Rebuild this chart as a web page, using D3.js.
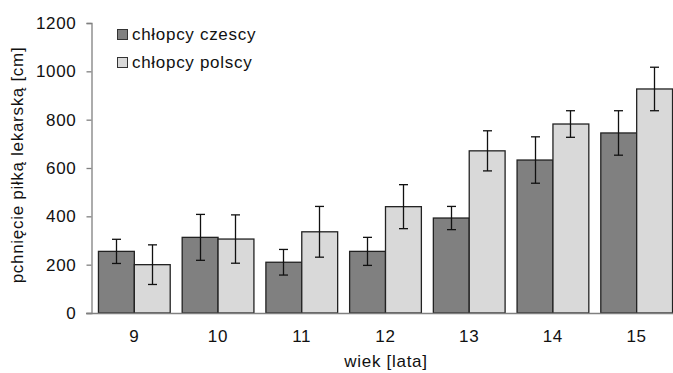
<!DOCTYPE html>
<html><head><meta charset="utf-8">
<script src="https://cdn.jsdelivr.net/npm/d3@7"></script>
<style>body{margin:0;background:#fff}svg{display:block;font-family:"Liberation Sans",Arial,sans-serif}text{letter-spacing:0.7px}</style>
</head><body><svg id="c" width="673" height="373"></svg>
<script>
const categories = ["9","10","11","12","13","14","15"];
const seriesNames = ["chłopcy czescy","chłopcy polscy"];
const czech = [255, 313, 210, 255, 393, 633, 745];
const czechErr = [50, 95, 53, 58, 48, 96, 92];
const polish = [200, 306, 336, 440, 671, 782, 927];
const polishErr = [82, 100, 105, 91, 83, 55, 90];
const yTicks = [0, 200, 400, 600, 800, 1000, 1200];
const colors = ["#808080", "#d9d9d9"];

const svg = d3.select("#c");
const x0 = d3.scaleBand().domain(categories).range([91, 679]).paddingInner(0.143).paddingOuter(0.083);
const x1 = d3.scaleBand().domain([0,1]).range([0, x0.bandwidth()]);
const y = d3.scaleLinear().domain([0, 1200]).range([313, 23]);
const fs = 17;
const ff = "Liberation Sans, Arial, sans-serif";

const data = categories.map((c,i)=>[
  {cat:c, s:0, v:czech[i], e:czechErr[i]},
  {cat:c, s:1, v:polish[i], e:polishErr[i]}
]).flat();

// bars
svg.append("g").selectAll("rect").data(data).join("rect")
  .attr("x", d=>x0(d.cat)+x1(d.s)+0.5)
  .attr("y", d=>y(d.v))
  .attr("width", x1.bandwidth())
  .attr("height", d=>y(0)-y(d.v))
  .attr("fill", d=>colors[d.s])
  .attr("stroke", "#222").attr("stroke-width", 1.3);

// error bars
const eg = svg.append("g").attr("stroke", "#111").attr("stroke-width", 1.3);
data.forEach(d=>{
  const cx = Math.round(x0(d.cat)+x1(d.s)+x1.bandwidth()/2)+0.5;
  eg.append("line").attr("x1",cx).attr("x2",cx).attr("y1",y(d.v+d.e)).attr("y2",y(d.v-d.e));
  eg.append("line").attr("x1",cx-4.5).attr("x2",cx+4.5).attr("y1",y(d.v+d.e)).attr("y2",y(d.v+d.e));
  eg.append("line").attr("x1",cx-4.5).attr("x2",cx+4.5).attr("y1",y(d.v-d.e)).attr("y2",y(d.v-d.e));
});

// y axis
const ya = svg.append("g").attr("transform","translate(91.5,0)")
  .call(d3.axisLeft(y).tickValues(yTicks).tickFormat(d3.format("d")).tickSize(5).tickPadding(10));
ya.select(".domain").attr("stroke","#808080").attr("stroke-width",1.3);
ya.selectAll(".tick line").attr("stroke","#808080").attr("stroke-width",1.3);
ya.selectAll("text").attr("font-size",fs).attr("fill","#111").attr("font-family",ff);

// x axis
const xa = svg.append("g").attr("transform","translate(0,313.5)")
  .call(d3.axisBottom(x0).tickSize(0).tickPadding(16));
xa.select(".domain").remove();
xa.selectAll("text").attr("font-size",fs).attr("fill","#111").attr("font-family",ff).attr("dx","0.4");
svg.append("line").attr("x1",86).attr("x2",673).attr("y1",313.5).attr("y2",313.5)
  .attr("stroke","#808080").attr("stroke-width",1.3);

// axis titles
svg.append("text").attr("x",386).attr("y",367).attr("text-anchor","middle")
  .attr("font-size",fs).attr("fill","#111").text("wiek [lata]");
svg.append("text").attr("transform","translate(23,165) rotate(-90)").attr("text-anchor","middle")
  .attr("font-size",fs).attr("fill","#111").text("pchnięcie piłką lekarską [cm]");

// legend
const lg = svg.append("g");
seriesNames.forEach((n,i)=>{
  const yy = 29 + i*28;
  lg.append("rect").attr("x",117.5).attr("y",yy+0.5).attr("width",10).attr("height",10)
    .attr("fill",colors[i]).attr("stroke","#333").attr("stroke-width",1);
  lg.append("text").attr("x",132).attr("y",yy+11).attr("font-size",fs).attr("fill","#111").text(n);
});
</script></body></html>
